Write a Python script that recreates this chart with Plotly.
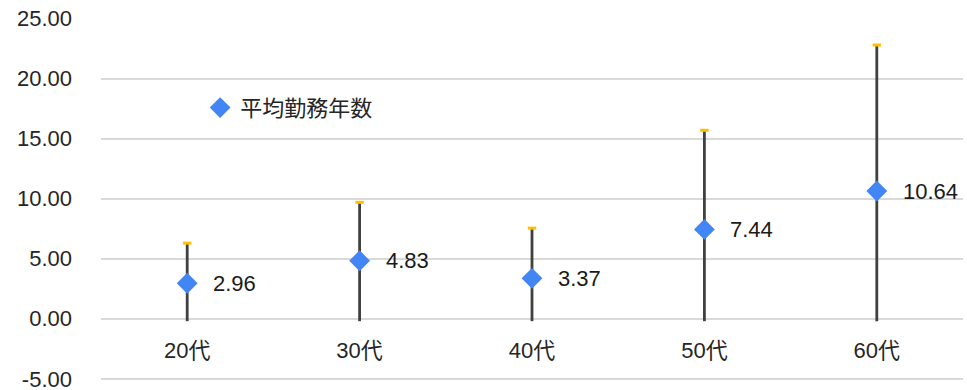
import plotly.graph_objects as go

categories = ["20代", "30代", "40代", "50代", "60代"]
avg_years = [2.96, 4.83, 3.37, 7.44, 10.64]
max_years = [6.3, 9.7, 7.55, 15.7, 22.8]
min_years = [-0.2, -0.2, -0.2, -0.2, -0.2]
series_name = "平均勤務年数"
y_ticks = [-5, 0, 5, 10, 15, 20, 25]
y_tick_labels = ["-5.00", "0.00", "5.00", "10.00", "15.00", "20.00", "25.00"]

FONT = "Liberation Sans, Arial, Noto Sans CJK JP, sans-serif"
Y0, Y1 = -5.1, 25.05

fig = go.Figure()

# high-low lines
fig.add_trace(go.Scatter(
    x=categories, y=avg_years, mode="markers",
    marker=dict(size=0.1, color="rgba(0,0,0,0)"),
    error_y=dict(type="data", symmetric=False,
                 array=[m - a for m, a in zip(max_years, avg_years)],
                 arrayminus=[a - m for a, m in zip(avg_years, min_years)],
                 color="#404040", thickness=2.8, width=0),
    showlegend=False, hoverinfo="skip"))

# orange caps
fig.add_trace(go.Scatter(
    x=categories, y=max_years, mode="markers",
    marker=dict(symbol="line-ew", size=6, line=dict(color="#FFC000", width=3)),
    showlegend=False, hoverinfo="skip"))

# diamonds
fig.add_trace(go.Scatter(
    x=categories, y=avg_years, mode="markers", name=series_name,
    marker=dict(symbol="diamond", size=16, color="#4285F4"),
    showlegend=True))

for c, v in zip(categories, avg_years):
    fig.add_annotation(x=c, y=v, text=f"{v:.2f}", showarrow=False,
                       xanchor="left", yanchor="middle", xshift=24, yshift=0,
                       font=dict(family=FONT, size=22, color="#1a1a1a"))

fig.update_layout(
    width=967, height=390,
    margin=dict(l=101, r=4, t=18, b=10, autoexpand=False),
    paper_bgcolor="white", plot_bgcolor="white",
    font=dict(family=FONT, size=22, color="#262626"),
    showlegend=True,
    legend=dict(x=0.115, y=0.81, xanchor="left", yanchor="top",
                font=dict(family=FONT, size=22, color="#262626"),
                bgcolor="rgba(0,0,0,0)", itemwidth=30),
    xaxis=dict(range=[-0.5, 4.5], anchor="free", position=(0 - Y0) / (Y1 - Y0),
               showgrid=False, showline=False, zeroline=False, ticks="",
               ticklabelstandoff=16, automargin=False,
               tickfont=dict(family=FONT, size=22, color="#262626")),
    yaxis=dict(range=[Y0, Y1], tickvals=y_ticks, ticktext=y_tick_labels,
               showgrid=True, gridcolor="#D9D9D9", gridwidth=2,
               zeroline=False, showline=False, ticks="", automargin=False,
               ticklabelstandoff=28, ticklabeloverflow="allow",
               tickfont=dict(family=FONT, size=22, color="#262626")),
)

fig.write_html("out.html")
